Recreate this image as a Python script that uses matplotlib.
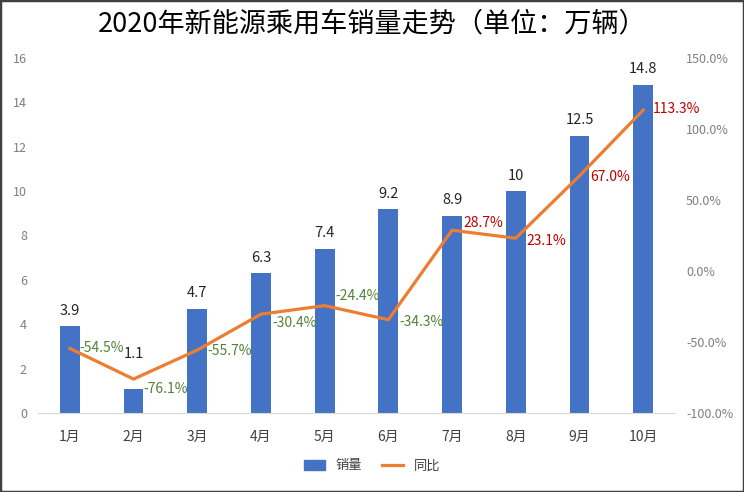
import matplotlib
matplotlib.use("Agg")
import matplotlib.pyplot as plt
from matplotlib.patches import Rectangle
from matplotlib.lines import Line2D
from matplotlib.patches import Patch

plt.rcParams['font.family'] = ['Noto Sans CJK SC', 'DejaVu Sans']

months = ["1月", "2月", "3月", "4月", "5月", "6月", "7月", "8月", "9月", "10月"]
sales = [3.9, 1.1, 4.7, 6.3, 7.4, 9.2, 8.9, 10, 12.5, 14.8]
yoy = [-54.5, -76.1, -55.7, -30.4, -24.4, -34.3, 28.7, 23.1, 67.0, 113.3]
yoy_labels = ["-54.5%", "-76.1%", "-55.7%", "-30.4%", "-24.4%", "-34.3%", "28.7%", "23.1%", "67.0%", "113.3%"]
sales_labels = ["3.9", "1.1", "4.7", "6.3", "7.4", "9.2", "8.9", "10", "12.5", "14.8"]
left_ticks = [0, 2, 4, 6, 8, 10, 12, 14, 16]
right_ticks = [-100, -50, 0, 50, 100, 150]
right_tick_labels = ["-100.0%", "-50.0%", "0.0%", "50.0%", "100.0%", "150.0%"]

# label offsets in points (dx, dy) relative to line point
offsets = [(7, 0), (7, -7), (7, -1), (8, -6), (8, 7), (8, -2), (8, 5), (8, -2), (8, -1), (7, 1)]
# extra vertical offset for bar value labels (points)
bar_label_dy = [6, 20, 6, 6, 6, 6, 6, 6, 6, 6]

fig = plt.figure(figsize=(7.44, 4.92), dpi=100)
ax = fig.add_axes([38/744, 1 - 413/492, (675-38)/744, (413-58)/492])
x = list(range(len(months)))
ax.bar(x, sales, width=0.31, color="#4472C4", zorder=2)
ax.set_xlim(-0.5, len(months) - 0.5)
ax.set_ylim(0, 16)
ax.set_yticks(left_ticks)
ax.set_yticklabels([str(t) for t in left_ticks])
ax.set_xticks(x)
ax.set_xticklabels(months)
for s in ["top", "right", "left"]:
    ax.spines[s].set_visible(False)
ax.spines["bottom"].set_color("#D9D9D9")
ax.tick_params(axis="y", length=0, colors="#7F7F7F", labelsize=9, pad=8)
ax.tick_params(axis="x", length=0, colors="#404040", labelsize=10, pad=12)
for i, (v, lab) in enumerate(zip(sales, sales_labels)):
    ax.annotate(lab, (i, v), xytext=(0, bar_label_dy[i]), textcoords="offset points",
                ha="center", va="bottom", fontsize=10.5, color="#262626")

ax2 = ax.twinx()
ax2.plot(x, yoy, color="#ED7D31", linewidth=2.3, zorder=3)
ax2.set_ylim(-100, 150)
ax2.set_yticks(right_ticks)
ax2.set_yticklabels(right_tick_labels)
for s in ["top", "right", "left", "bottom"]:
    ax2.spines[s].set_visible(False)
ax2.tick_params(axis="y", length=0, colors="#7F7F7F", labelsize=9, pad=8)
for i, (v, lab) in enumerate(zip(yoy, yoy_labels)):
    col = "#548235" if v < 0 else "#C00000"
    dx, dy = offsets[i]
    ax2.annotate(lab, (i, v), xytext=(dx, dy), textcoords="offset points",
                 ha="left", va="center", fontsize=10, color=col)

fig.text(0.5, 1 - 24/492, "2020年新能源乘用车销量走势（单位：万辆）", ha="center", va="center",
         fontsize=19.5, color="#000000")

handles = [Patch(color="#4472C4"), Line2D([0], [0], color="#ED7D31", linewidth=2.3)]
fig.legend(handles, ["销量", "同比"], loc="center", bbox_to_anchor=(0.5, 1 - 466/492),
           ncol=2, frameon=False, fontsize=9.5, handlelength=1.6, handleheight=0.7,
           columnspacing=1.5, labelcolor="#404040")

fig.patches.append(Rectangle((0, 0), 1, 1, transform=fig.transFigure, fill=False,
                             edgecolor="#404040", linewidth=2.5))
fig.savefig("out.png", dpi=100)
